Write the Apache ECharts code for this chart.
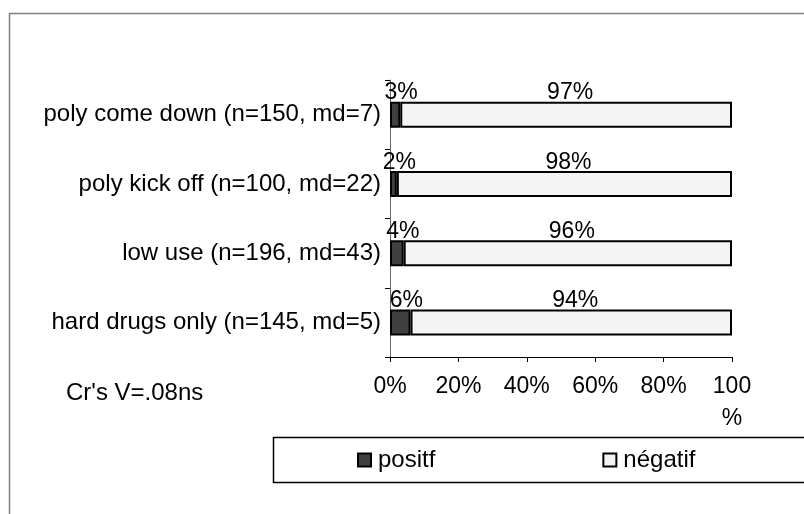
<!DOCTYPE html>
<html>
<head>
<meta charset="utf-8">
<script src="https://cdn.jsdelivr.net/npm/echarts@6/dist/echarts.min.js"></script>
<style>
  html, body { margin: 0; padding: 0; background: #fff; }
  #chart { width: 804px; height: 514px; }
</style>
</head>
<body>
<div id="chart"></div>
<script>
// Groups, listed bottom to top as drawn on the category axis
const categories = [
  'hard drugs only (n=145, md=5)',
  'low use (n=196, md=43)',
  'poly kick off (n=100, md=22)',
  'poly come down (n=150, md=7)'
];
// Share of each answer per group, in percent
const positif = [6, 4, 2, 3];
const negatif = [94, 96, 98, 97];
const seriesNames = ['positf', 'négatif'];
const xTicks = [0, 20, 40, 60, 80, 100];
const noteText = "Cr's V=.08ns";

const FONT = 'Liberation Sans, Arial, Helvetica, sans-serif';

const chart = echarts.init(document.getElementById('chart'), null, { renderer: 'canvas' });

const labelStyle = {
  show: true,
  position: 'top',
  distance: -3,
  formatter: p => p.value + '%',
  color: '#000',
  fontFamily: FONT,
  fontSize: 23
};

chart.setOption({
  animation: false,
  backgroundColor: '#fff',
  textStyle: { fontFamily: FONT },
  grid: { left: 390, right: 72, top: 80, bottom: 157, containLabel: false },
  xAxis: {
    type: 'value',
    min: xTicks[0],
    max: xTicks[xTicks.length - 1],
    interval: xTicks[1] - xTicks[0],
    splitLine: { show: false },
    axisLine: { show: true, lineStyle: { color: '#000', width: 1 } },
    axisTick: { show: true, length: 5, lineStyle: { color: '#000' } },
    axisLabel: {
      color: '#000',
      fontFamily: FONT,
      fontSize: 23,
      margin: 14,
      lineHeight: 32,
      formatter: v => (v === 100 ? '100\n%' : v + '%')
    }
  },
  yAxis: {
    type: 'category',
    data: categories,
    axisLine: { show: true, lineStyle: { color: '#666', width: 1 } },
    axisTick: { show: true, length: 5, alignWithLabel: false, lineStyle: { color: '#000' } },
    axisLabel: { color: '#000', fontFamily: FONT, fontSize: 24, margin: 9, padding: [4, 0, 0, 0] }
  },
  legend: {
    data: seriesNames,
    left: 357,
    top: 448,
    orient: 'horizontal',
    icon: 'rect',
    itemWidth: 13,
    itemHeight: 13,
    itemGap: 167,
    padding: 0,
    textStyle: { color: '#000', fontFamily: FONT, fontSize: 24, padding: [0, 0, 0, 2] }
  },
  graphic: [
    {
      type: 'rect',
      shape: { x: 9.5, y: 13.5, width: 900, height: 600 },
      style: { fill: 'none', stroke: '#808080', lineWidth: 1.5 },
      silent: true
    },
    {
      // frame around the legend, running off the right edge
      type: 'rect',
      shape: { x: 273.5, y: 437.5, width: 700, height: 45 },
      style: { fill: 'none', stroke: '#000', lineWidth: 1.5 },
      silent: true,
      z: -1
    },
    {
      type: 'text',
      left: 66,
      top: 381,
      style: { text: noteText, fill: '#000', font: '24px ' + FONT }
    }
  ],
  series: [
    {
      name: seriesNames[0],
      type: 'bar',
      stack: 'total',
      barWidth: 26,
      data: positif,
      itemStyle: { color: '#404040', borderColor: '#000', borderWidth: 2 },
      label: Object.assign({}, labelStyle, { offset: [6, 0] })
    },
    {
      name: seriesNames[1],
      type: 'bar',
      stack: 'total',
      barWidth: 26,
      data: negatif,
      itemStyle: { color: '#f4f4f4', borderColor: '#000', borderWidth: 2 },
      label: Object.assign({}, labelStyle, { offset: [4, 0] })
    }
  ]
});
</script>
</body>
</html>
